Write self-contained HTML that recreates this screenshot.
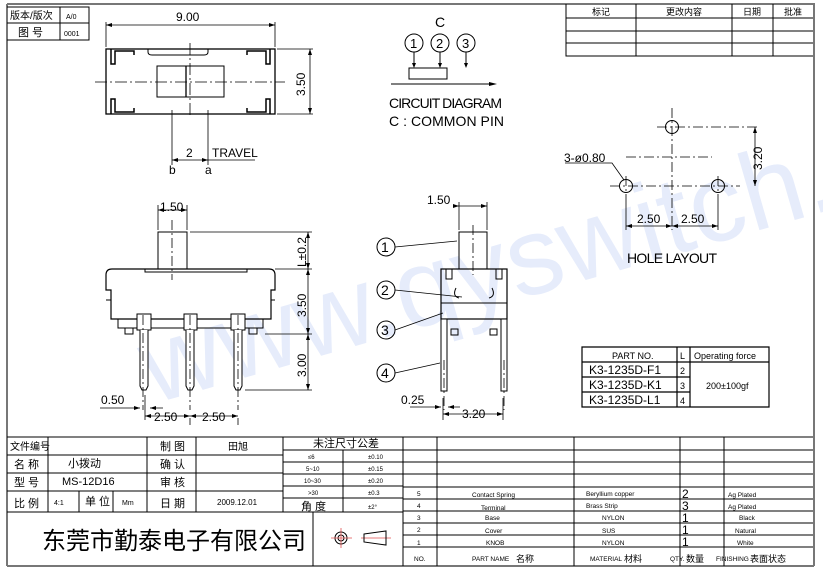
<!DOCTYPE html>
<html><head><meta charset="utf-8"><style>
body{margin:0;background:#fff}
svg{display:block}
text{font-family:"Liberation Sans","Noto Sans CJK SC",sans-serif;fill:#000}
.t text{font-family:"Liberation Sans Narrow","Liberation Sans",sans-serif}
</style></head><body>
<svg width="823" height="576" viewBox="0 0 823 576" xmlns="http://www.w3.org/2000/svg">
<g fill="none" stroke="#000" stroke-width="1">
<!-- watermark -->
<text x="120" y="330" transform="rotate(-16 400 250)" style="font-size:110px;fill:#e6ecfb;stroke:none;font-family:'Liberation Sans',sans-serif">www.qyswitch.com</text>
<!-- frame -->
<path d="M7,4H815M7,4V566M814,4V566M7,566H814" stroke="#777" stroke-width="2"/>
<path d="M7,7H89V40H7M7,23H89M60,7V40"/>
<path d="M566,4V56H813M566,18H813M566,31H813M566,43H813M636,4V56M732,4V56M773,4V56"/>

<!-- top view -->
<rect x="106" y="49" width="169" height="65" stroke-width="1.3"/>
<path d="M148,49v3q0,3 4,3h52q4,0 4,-3v-3" />
<rect x="157" y="66" width="67" height="31"/><path d="M186,66V97" stroke-width="1.3"/>
<path d="M111,49v15h4v-13h19v4M270,49v15h-4v-13h-19v4M111,114v-15h4v13h19v-4M270,114v-15h-4v13h-19v-4" stroke-width="1.5"/>
<path d="M95,82H285M190,43V118" stroke-dasharray="12,3,2,3" stroke-width="0.8"/>
<path d="M106,22V47M275,22V47M106,25H275M277,49H313M277,114H313M310,49V114M172,110V165M208,110V165M172,160H208M208,160H255" stroke-width="0.8"/>
<path d="M106,25l6,-2v4zM275,25l-6,-2v4zM310,49l-2,6h4zM310,114l-2,-6h4zM172,160l6,-2v4zM208,160l-6,-2v4z" fill="#000" stroke="none"/>

<!-- side view -->
<rect x="158" y="232" width="29" height="37"/>
<path d="M106,275q0,-6 6,-6H269q6,0 6,6V290h-4V319H111V290h-5z" stroke-width="1.2"/>
<path d="M145,269v3h102v-3" />
<path d="M106,300h5M271,300h4"/>
<rect x="118" y="319" width="145" height="9"/>
<rect x="125" y="328" width="8" height="6"/><rect x="249" y="328" width="8" height="6"/>
<g fill="#fff">
<rect x="137" y="314" width="14" height="16"/><path d="M140,330V386l2,4h4l2,-4V330"/>
<rect x="184" y="314" width="13" height="16"/><path d="M186,330V386l2,4h4l2,-4V330"/>
<rect x="231" y="314" width="14" height="16"/><path d="M234,330V386l2,4h4l2,-4V330"/>
</g>
<path d="M172,220V280M143,315V410M190,315V410M238,315V410" stroke-dasharray="10,3,2,3" stroke-width="0.8"/>
<path d="M158,205V230M187,205V230M158,210H187M190,232H312M275,269H312M265,334H312M245,390H312M308,232V390M100,408H140M150,408H163M145,395V420M190,418V425M238,418V425M145,416H238" stroke-width="0.8"/>
<path d="M158,210l6,-2v4zM187,210l-6,-2v4zM308,232l-2,6h4zM308,269l-2,-6h4zM308,269l-2,6h4zM308,334l-2,-6h4zM308,334l-2,6h4zM308,390l-2,-6h4zM145,416l6,-2v4zM190,416l-6,-2v4zM190,416l6,-2v4zM238,416l-6,-2v4zM140,408l-6,-2v4zM150,408l6,-2v4z" fill="#000" stroke="none"/>

<!-- front view -->
<rect x="459" y="232" width="28" height="37"/>
<rect x="441" y="269" width="66" height="50" stroke-width="1.2"/>
<path d="M441,303H507M446,269v10h6v-10M502,269v10h-6v-10M456,288q-4,8 3,10M492,288q4,8 -3,10"/>
<rect x="451" y="329" width="7" height="6"/><rect x="490" y="329" width="7" height="6"/>
<rect x="441" y="319" width="6" height="72" fill="#fff"/><rect x="501" y="319" width="6" height="72" fill="#fff"/>
<path d="M473,225V275M444,360V410M504,360V410" stroke-dasharray="10,3,2,3" stroke-width="0.8"/>
<path d="M459,202V230M487,202V230M455,206H487M410,407H441M448,407H460M443,398V420M503,398V420M443,414H503" stroke-width="0.8"/>
<path d="M459,206l-6,-2v4zM487,206l-6,-2v4zM441,407l-6,-2v4zM448,407l6,-2v4zM443,414l6,-2v4zM503,414l-6,-2v4z" fill="#000" stroke="none"/>
<circle cx="386" cy="247" r="9"/><circle cx="386" cy="290" r="9"/><circle cx="386" cy="330" r="9"/><circle cx="386" cy="373" r="9"/>
<path d="M395,247L457,241M395,290L462,297M395,330L443,313M395,373L440,363" stroke-width="0.8"/>

<!-- circuit -->
<circle cx="414" cy="43" r="9"/><circle cx="440" cy="43" r="9"/><circle cx="466" cy="43" r="9"/>
<path d="M414,52V66M440,52V66M466,52V64"/>
<path d="M414,68l-2,-5h4zM440,68l-2,-5h4zM466,68l-2,-5h4z" fill="#000" stroke="none"/>
<rect x="409" y="68" width="38" height="11"/>
<path d="M391,84H490"/><path d="M497,84l-8,-2v4z" fill="#000" stroke="none"/>

<!-- hole layout -->
<circle cx="672" cy="127" r="6.5"/><circle cx="626" cy="186" r="6.5"/><circle cx="718" cy="186" r="6.5"/>
<path d="M672,108V230M657,127H760M610,186H740M626,157H712M626,176V196M718,176V196" stroke-dasharray="10,3,2,3" stroke-width="0.8"/>
<path d="M755,127V186M626,196V230M718,196V230M626,226H718M565,163H612L624,180" stroke-width="0.8"/>
<path d="M755,127l-2,6h4zM755,186l-2,-6h4zM626,226l6,-2v4zM672,226l-6,-2v4zM672,226l6,-2v4zM718,226l-6,-2v4z" fill="#000" stroke="none"/>

<!-- parts table -->
<path d="M582,347H769V407H582ZM582,362H769M582,377H690M582,392H690M677,347V407M690,347V407" stroke-width="1.2"/>

<!-- bottom title block -->
<path d="M7,437H813M7,512H403M7,455H283M7,473H283M7,491H283M48,437V512M147,437V512M196,437V512M283,437V512M79,491V512M113,491V512M313,512V566M403,437V566"/>
<path d="M283,450H403M283,462H403M283,474H403M283,486H403M283,498H403M343,450V512"/>
<path d="M403,450H813M403,462H813M403,474H813M403,487H813M403,499H813M403,511H813M403,523H813M403,535H813M403,547H813M437,437V566M574,437V566M680,437V566M724,437V566"/>
<circle cx="341" cy="538" r="6"/><circle cx="341" cy="538" r="3"/>
<path d="M331,538H352M341,528V548M361,538H391" stroke="#e05050" stroke-width="0.8"/>
<path d="M364,534L386,531V545L364,542Z"/>
</g>

<g style="font-size:11px">
<text x="10" y="19" style="font-size:10px">版本/版次</text><text x="66" y="19" style="font-size:7px">A/0</text>
<text x="18" y="36" style="font-size:11px">图 号</text><text x="64" y="36" style="font-size:7px">0001</text>
<g style="font-size:9px" text-anchor="middle"><text x="601" y="15">标记</text><text x="684" y="15">更改内容</text><text x="752" y="15">日期</text><text x="793" y="15">批准</text></g>
<g class="t" style="font-size:12px">
<text x="176" y="21">9.00</text>
<text x="305" y="96" transform="rotate(-90 305 96)">3.50</text>
<text x="186" y="157">2</text><text x="212" y="157">TRAVEL</text>
<text x="169" y="174">b</text><text x="205" y="174">a</text>
<text x="160" y="211">1.50</text>
<text x="306" y="267" transform="rotate(-90 306 267)">L±0.2</text>
<text x="306" y="317" transform="rotate(-90 306 317)">3.50</text>
<text x="306" y="377" transform="rotate(-90 306 377)">3.00</text>
<text x="101" y="404">0.50</text><text x="154" y="421">2.50</text><text x="202" y="421">2.50</text>
<text x="427" y="204">1.50</text><text x="401" y="404">0.25</text><text x="462" y="418">3.20</text>
<text x="435" y="27" style="font-size:14px">C</text>
<text x="410" y="48" style="font-size:13px">1</text><text x="436" y="48" style="font-size:13px">2</text><text x="462" y="48" style="font-size:13px">3</text>
<text x="381" y="252" style="font-size:14px">1</text><text x="381" y="295" style="font-size:14px">2</text><text x="381" y="335" style="font-size:14px">3</text><text x="381" y="378" style="font-size:14px">4</text>
<text x="389" y="108" style="font-size:14px" textLength="113">CIRCUIT  DIAGRAM</text>
<text x="389" y="126" style="font-size:14px" textLength="115">C  :  COMMON  PIN</text>
<text x="564" y="162">3-ø0.80</text>
<text x="762" y="170" transform="rotate(-90 762 170)">3.20</text>
<text x="637" y="223">2.50</text><text x="681" y="223">2.50</text>
<text x="627" y="263" style="font-size:14px" textLength="90">HOLE  LAYOUT</text>
<text x="612" y="359" style="font-size:9px">PART  NO.</text><text x="680" y="359" style="font-size:9px">L</text><text x="694" y="359" style="font-size:9px">Operating force</text>
<text x="589" y="374">K3-1235D-F1</text><text x="589" y="389">K3-1235D-K1</text><text x="589" y="404">K3-1235D-L1</text>
<text x="680" y="374" style="font-size:9px">2</text><text x="680" y="389" style="font-size:9px">3</text><text x="680" y="404" style="font-size:9px">4</text>
<text x="706" y="389" style="font-size:9px">200±100gf</text>
</g>
<text x="10" y="450" style="font-size:10px">文件编号</text>
<text x="14" y="468">名  称</text><text x="68" y="467">小拨动</text>
<text x="14" y="486">型  号</text><text x="62" y="485">MS-12D16</text>
<text x="14" y="507">比  例</text><text x="54" y="505" style="font-size:7px">4:1</text><text x="85" y="505">单 位</text><text x="122" y="505" style="font-size:7px">Mm</text>
<text x="160" y="450">制  图</text><text x="228" y="450" style="font-size:10px">田旭</text>
<text x="160" y="468">确  认</text><text x="160" y="486">审  核</text>
<text x="160" y="507">日  期</text><text x="217" y="505" style="font-size:8px">2009.12.01</text>
<text x="313" y="447">未注尺寸公差</text>
<g style="font-size:6px"><text x="308" y="459">≤6</text><text x="368" y="459">±0.10</text>
<text x="306" y="471">5~10</text><text x="368" y="471">±0.15</text>
<text x="304" y="483">10~30</text><text x="368" y="483">±0.20</text>
<text x="308" y="495">&gt;30</text><text x="368" y="495">±0.3</text></g>
<text x="301" y="510">角  度</text><text x="368" y="509" style="font-size:6px">±2°</text>
<text x="42" y="549" style="font-size:24px">东莞市勤泰电子有限公司</text>
<g style="font-size:6.5px">
<text x="417" y="496">5</text><text x="472" y="497">Contact  Spring</text><text x="586" y="496">Beryllium  copper</text><text x="728" y="497">Ag  Plated</text>
<text x="417" y="508">4</text><text x="481" y="510">Terminal</text><text x="586" y="508">Brass  Strip</text><text x="728" y="509">Ag  Plated</text>
<text x="417" y="520">3</text><text x="485" y="520">Base</text><text x="602" y="520">NYLON</text><text x="739" y="520">Black</text>
<text x="417" y="532">2</text><text x="485" y="533">Cover</text><text x="602" y="533">SUS</text><text x="735" y="533">Natural</text>
<text x="417" y="545">1</text><text x="486" y="545">KNOB</text><text x="602" y="545">NYLON</text><text x="737" y="545">White</text>
<text x="414" y="561">NO.</text><text x="472" y="561">PART  NAME</text><text x="590" y="561">MATERIAL</text><text x="670" y="561">QTY.</text><text x="716" y="561">FINISHING</text>
</g>
<g style="font-size:12px"><text x="682" y="498">2</text><text x="682" y="510">3</text><text x="682" y="522">1</text><text x="682" y="534">1</text><text x="682" y="546">1</text></g>
<g style="font-size:9px"><text x="516" y="562">名称</text><text x="624" y="562">材料</text><text x="686" y="562">数量</text><text x="750" y="562">表面状态</text></g>
</g>
</svg>
</body></html>
